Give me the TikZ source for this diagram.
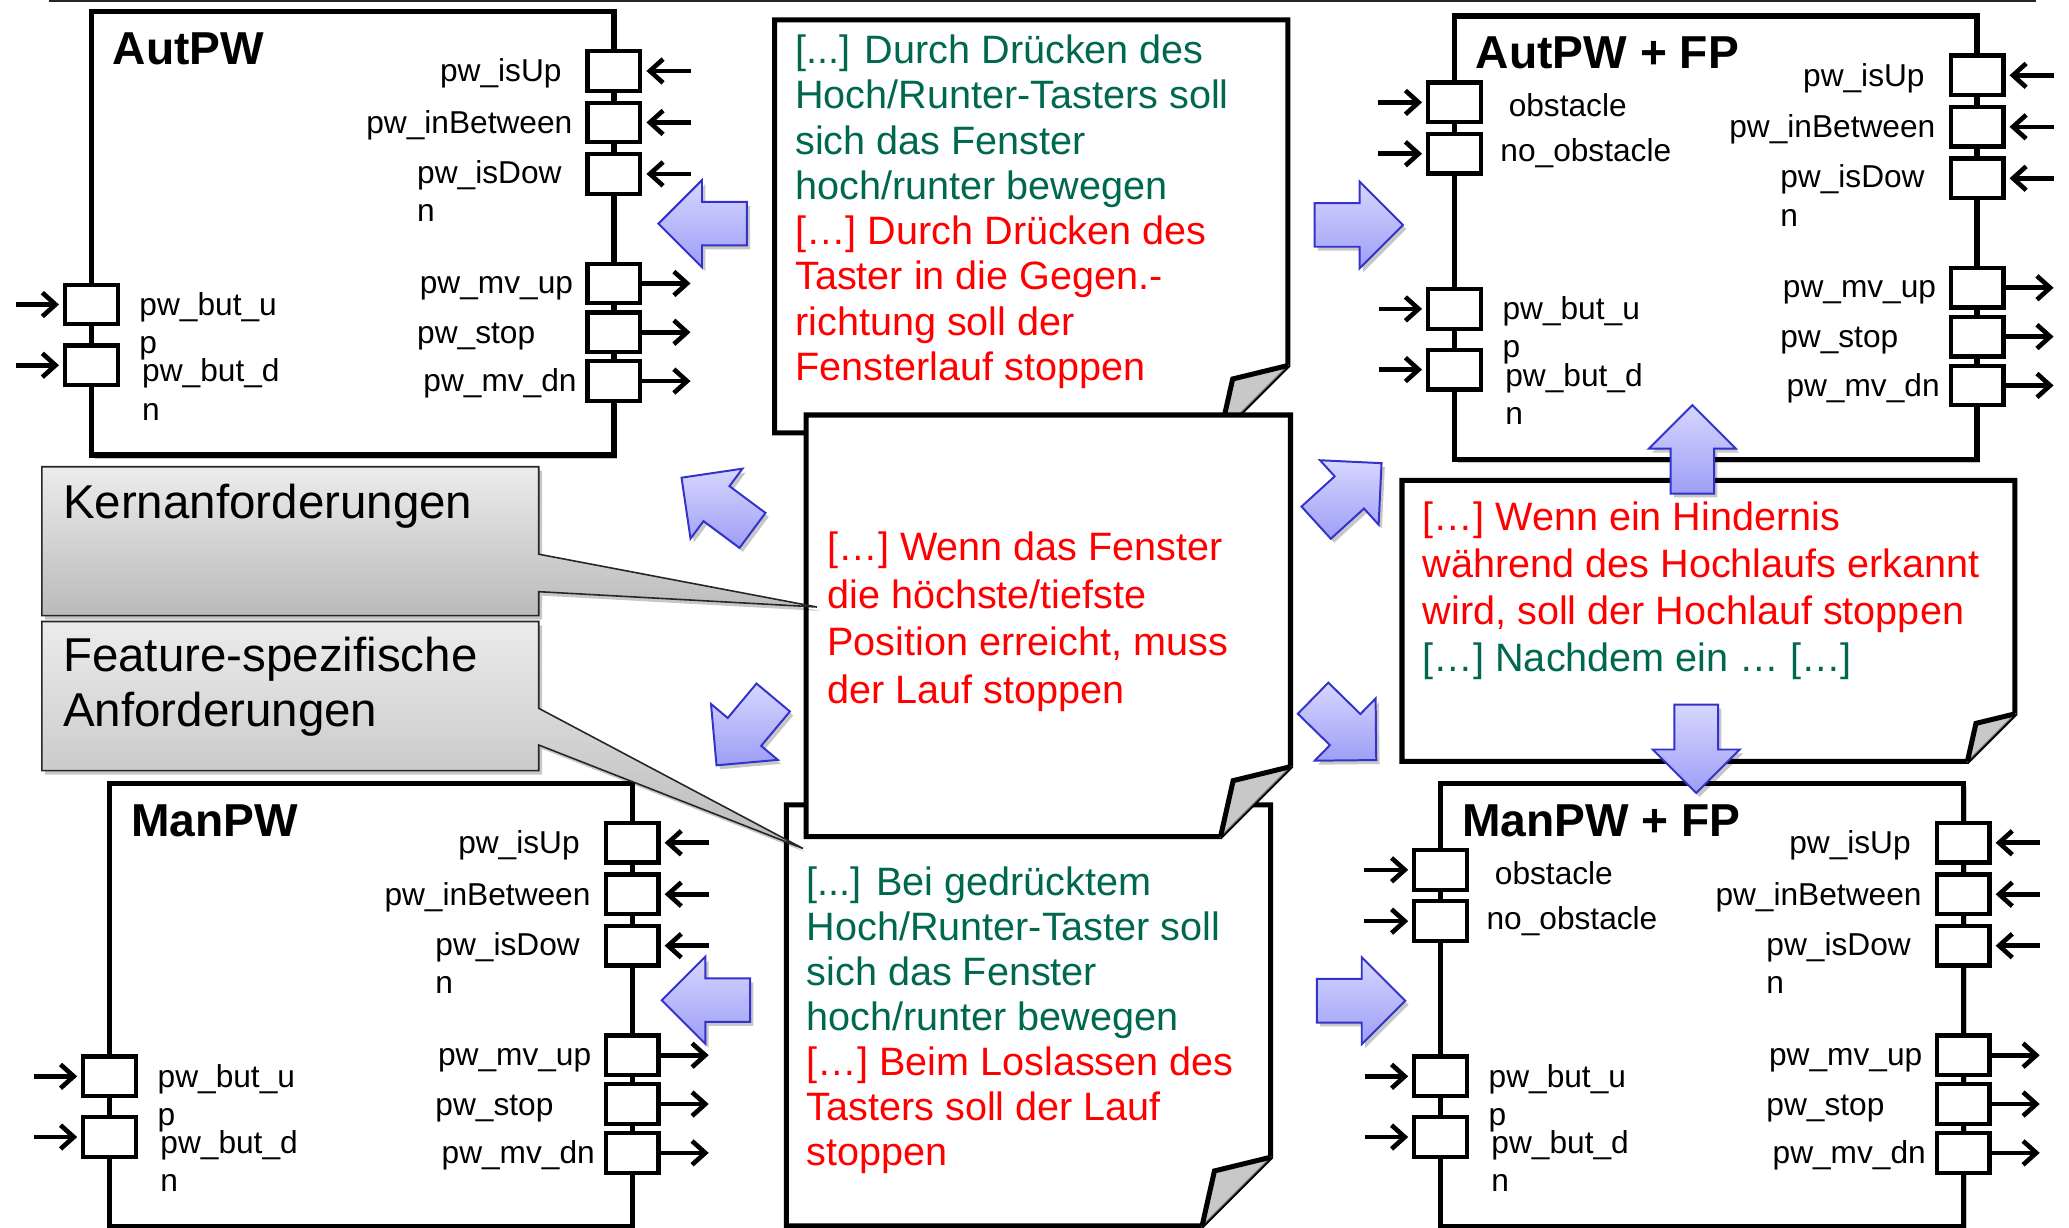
\documentclass[tikz,border=0pt]{standalone}
\usepackage{fontspec}
\setmainfont{Liberation Sans}
\usetikzlibrary{arrows.meta,shadows,calc}
\definecolor{ngreen}{RGB}{0,104,78}
\definecolor{nred}{RGB}{255,0,0}
\definecolor{bafill}{RGB}{214,214,255}
\definecolor{bafilldark}{RGB}{158,158,246}
\definecolor{baline}{RGB}{51,51,204}
\definecolor{foldgray}{RGB}{200,200,200}
\definecolor{calltop}{RGB}{236,236,236}
\definecolor{callbot}{RGB}{186,186,186}
\newcommand\firstrow[1]{\rule{0pt}{#1}}
\tikzset{
  softshadow/.style={drop shadow={shadow xshift=2.5pt,shadow yshift=-3pt,opacity=0.22,fill=black}},
  pwframe/.style={rectangle,draw=black,line width=4pt,fill=white,inner sep=0pt,outer sep=0pt,
    minimum width=396pt,minimum height=336pt,softshadow},
  port/.style={rectangle,draw=black,line width=3.2pt,fill=white,minimum width=40pt,minimum height=30pt,inner sep=0pt},
  plabel/.style={font=\fontsize{24}{29}\selectfont,inner sep=0pt,anchor=north west,align=left},
  ptitle/.style={font=\fontsize{35}{40}\selectfont\bfseries,inner sep=0pt,anchor=base west},
  portin/.style={line width=3.5pt,-{Straight Barb[length=10pt,width=18pt]},shorten >=3pt},
  portout/.style={line width=3.5pt,-{Straight Barb[length=10pt,width=18pt]}},
  noteframe/.style={draw=black,line width=3.8pt,fill=white,line join=miter},
  foldfill/.style={fill=foldgray,draw=black!55,line width=0.8pt},
  foldline/.style={draw=black,line width=3.8pt,line join=miter},
  notetext/.style={inner sep=0pt,anchor=north west,align=left},
  callout/.style={draw=black!85,line width=1.2pt,top color=calltop,bottom color=callbot,softshadow},
  calltext/.style={inner sep=0pt,font=\fontsize{36}{41.7}\selectfont},
  barrow/.style={draw=baline,line width=1.5pt,top color=bafill,bottom color=bafilldark,line join=miter,softshadow},
  blockarrow/.pic={\path[barrow] (0,0) -- (-33,33) -- (-33,16.5) -- (-67,16.5) -- (-67,-16.5) -- (-33,-16.5) -- (-33,-33) -- cycle;}
}
% port box: name, left, top, title, with FP ports (1/0)
\newcommand\pwbox[5]{%
\begin{scope}[shift={(#2,#3)}]
  \node[pwframe,anchor=north west] (#1) at (0,0) {};
  \node[ptitle] (#1-title) at (16,40) {#4};
  \node[port] (#1-isup) at (396,45) {};
  \node[port] (#1-inbetween) at (396,84) {};
  \node[port] (#1-isdown) at (396,123) {};
  \node[port] (#1-mvup) at (396,206) {};
  \node[port] (#1-stop) at (396,243) {};
  \node[port] (#1-mvdn) at (396,280) {};
  \node[port] (#1-butup) at (0,222) {};
  \node[port] (#1-butdn) at (0,268) {};
  \node[plabel] (#1-l-isup) at (264,33.1) {\firstrow{20pt}pw\_isUp};
  \node[plabel] (#1-l-inbetween) at (208.1,72.2) {\firstrow{20pt}pw\_inBetween};
  \node[plabel] (#1-l-isdown) at (246.7,110.1) {\firstrow{20pt}pw\_isDow\\n};
  \node[plabel] (#1-l-mvup) at (248.7,193.5) {\firstrow{20pt}pw\_mv\_up};
  \node[plabel] (#1-l-stop) at (246.7,231.4) {\firstrow{20pt}pw\_stop};
  \node[plabel] (#1-l-mvdn) at (251.4,268) {\firstrow{20pt}pw\_mv\_dn};
  \node[plabel] (#1-l-butup) at (36.2,209.9) {\firstrow{20pt}pw\_but\_u\\p};
  \node[plabel] (#1-l-butdn) at (38.3,260.4) {\firstrow{20pt}pw\_but\_d\\n};
  \coordinate (#1-isup-src) at (454,45);
  \coordinate (#1-inbetween-src) at (454,84);
  \coordinate (#1-isdown-src) at (454,123);
  \coordinate (#1-mvup-dst) at (454,206);
  \coordinate (#1-stop-dst) at (454,243);
  \coordinate (#1-mvdn-dst) at (454,280);
  \coordinate (#1-butup-src) at (-57.5,222);
  \coordinate (#1-butdn-src) at (-57.5,268);
  \draw[portin] (#1-isup-src) -- (#1-isup);
  \draw[portin] (#1-inbetween-src) -- (#1-inbetween);
  \draw[portin] (#1-isdown-src) -- (#1-isdown);
  \draw[portout] (#1-mvup) -- (#1-mvup-dst);
  \draw[portout] (#1-stop) -- (#1-stop-dst);
  \draw[portout] (#1-mvdn) -- (#1-mvdn-dst);
  \draw[portin] (#1-butup-src) -- (#1-butup);
  \draw[portin] (#1-butdn-src) -- (#1-butdn);
  \ifnum#5=1
    \node[port] (#1-obst) at (0,65.5) {};
    \node[port] (#1-noobst) at (0,104.4) {};
    \node[plabel] (#1-l-obst) at (40.9,56.3) {\firstrow{20pt}obstacle};
    \node[plabel] (#1-l-noobst) at (34.6,90.4) {\firstrow{20pt}no\_obstacle};
    \coordinate (#1-obst-src) at (-58,65.5);
    \coordinate (#1-noobst-src) at (-58,104.4);
    \draw[portin] (#1-obst-src) -- (#1-obst);
    \draw[portin] (#1-noobst-src) -- (#1-noobst);
  \fi
\end{scope}}
% sticky note: name, L, T, R, B, fold size
\newcommand\stickynote[6]{%
  \coordinate (#1-nw) at (#2,#3);
  \path[noteframe] (#2,#3) -- (#4,#3) -- (#4,#5-#6) -- (#4-#6,#5) -- (#2,#5) -- cycle;
  \path[foldfill] (#4,#5-#6) -- (#4-0.82*#6,#5-0.8*#6) -- (#4-#6,#5) -- cycle;
  \path[foldline] (#4,#5-#6) -- (#4-0.82*#6,#5-0.8*#6) -- (#4-#6,#5);
}
\begin{document}
\begin{tikzpicture}[x=1pt,y=-1pt]
\useasboundingbox (0,0) rectangle (1568,930);
\fill[white] (0,0) rectangle (1568,930);
\draw[line width=1.6pt,black!85] (37,1) -- (1543,1);

\pwbox{aut}{69.3}{8.8}{AutPW}{0}
\pwbox{autfp}{1102.3}{12.1}{AutPW + FP}{1}
\pwbox{man}{83.1}{593.7}{ManPW}{0}
\pwbox{manfp}{1091.8}{593.7}{ManPW + FP}{1}

% notes
\stickynote{note1}{587}{15}{976}{328}{51}
\node[notetext,font=\fontsize{30}{34.3}\selectfont] (note1text) at (602.5,24) {\firstrow{24pt}\textcolor{ngreen}{[...] Durch Drücken des}\\
\textcolor{ngreen}{Hoch/Runter-Tasters soll}\\
\textcolor{ngreen}{sich das Fenster}\\
\textcolor{ngreen}{hoch/runter bewegen}\\
\textcolor{nred}{[…] Durch Drücken des}\\
\textcolor{nred}{Taster in die Gegen.-}\\
\textcolor{nred}{richtung soll der}\\
\textcolor{nred}{Fensterlauf stoppen}};

\stickynote{note3}{596}{610}{963}{929}{52}
\node[notetext,font=\fontsize{30}{34.1}\selectfont] (note3text) at (611.2,654.2) {\firstrow{24pt}\textcolor{ngreen}{[...] Bei gedrücktem}\\
\textcolor{ngreen}{Hoch/Runter-Taster soll}\\
\textcolor{ngreen}{sich das Fenster}\\
\textcolor{ngreen}{hoch/runter bewegen}\\
\textcolor{nred}{[…] Beim Loslassen des}\\
\textcolor{nred}{Tasters soll der Lauf}\\
\textcolor{nred}{stoppen}};

\stickynote{note2}{611}{314.5}{978}{634}{53}
\node[notetext,font=\fontsize{30}{36.2}\selectfont] (note2text) at (626.9,400.4) {\firstrow{24pt}\textcolor{nred}{[…] Wenn das Fenster}\\
\textcolor{nred}{die höchste/tiefste}\\
\textcolor{nred}{Position erreicht, muss}\\
\textcolor{nred}{der Lauf stoppen}};

\stickynote{note4}{1062.5}{364}{1527}{577}{36}
\node[notetext,font=\fontsize{30}{35.8}\selectfont] (note4text) at (1078.1,377.6) {\firstrow{24pt}\textcolor{nred}{[…] Wenn ein Hindernis}\\
\textcolor{nred}{während des Hochlaufs erkannt}\\
\textcolor{nred}{wird, soll der Hochlauf stoppen}\\
\textcolor{ngreen}{[…] Nachdem ein … […]}};

% callouts
\coordinate (kerntip) at (619,460);
\path[callout] (31.7,353.7) -- (408.3,353.7) -- (408.3,420) -- (kerntip) -- (408.3,448.4) -- (408.3,466.6) -- (31.7,466.6) -- cycle;
\node[calltext,anchor=base west] (kern) at (47.6,392.8) {Kernanforderungen};
\coordinate (feattip) at (608.5,643);
\path[callout] (31.7,471) -- (408.3,471) -- (408.3,536.8) -- (feattip) -- (408.3,564.6) -- (408.3,584) -- (31.7,584) -- cycle;
\node[calltext,notetext] (feat) at (47.6,480) {\firstrow{29pt}Feature-spezifische\\Anforderungen};

% block arrows
\pic[rotate=180] (arrA) at (499,169.5) {blockarrow};
\pic[rotate=0] (arrB) at (1063.3,170.5) {blockarrow};
\pic[rotate=180] (arrC) at (501.5,758) {blockarrow};
\pic[rotate=0] (arrD) at (1065,758.4) {blockarrow};
\pic[rotate=90] (arrE) at (1282.5,307) {blockarrow};
\pic[rotate=-90] (arrF) at (1285.5,601) {blockarrow};
\pic[rotate=143.4] (arrG) at (516.5,362) {blockarrow};
\pic[rotate=-129.9] (arrH) at (543,580) {blockarrow};
\pic[rotate=42.3] (arrI) at (1047,351) {blockarrow};
\pic[rotate=-44.4] (arrJ) at (1043,576) {blockarrow};
\end{tikzpicture}
\end{document}
